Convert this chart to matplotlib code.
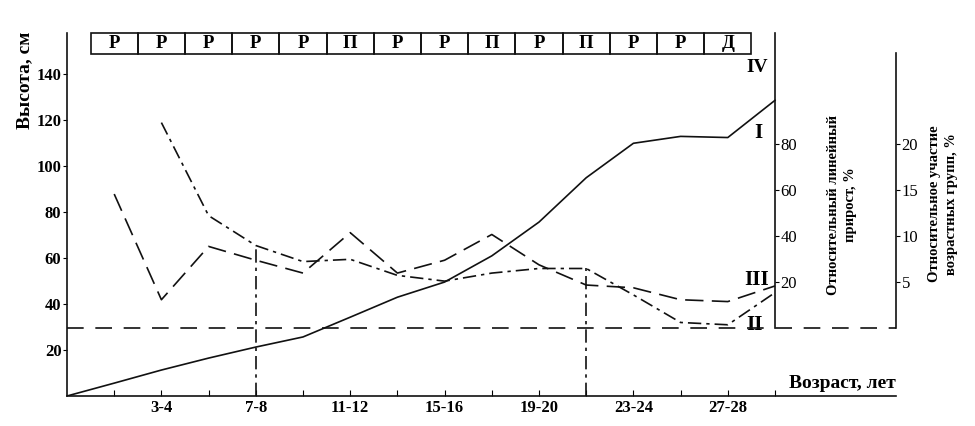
import matplotlib
matplotlib.use("Agg")
import matplotlib.pyplot as plt
from matplotlib.patches import Rectangle

plt.rcParams['font.family'] = ['Liberation Serif', 'DejaVu Serif']
plt.rcParams['font.weight'] = 'bold'

# данные
age_idx = list(range(16))                    # 0 .. 15 (пары лет)
age_ticks = [2, 4, 6, 8, 10, 12, 14]
age_labels = ["3-4", "7-8", "11-12", "15-16", "19-20", "23-24", "27-28"]

# I - высота, см (левая ось)
height = [0, 5.6, 11.3, 16.5, 21.3, 25.7, 34.3, 43, 49.6, 61, 75.7, 95, 110, 113, 112.5, 128.7]

# II - относительный линейный прирост, % (с 3-4 лет)
growth_idx = [2, 3, 4, 5, 6, 7, 8, 9, 10, 11, 12, 13, 14, 15]
growth = [89.5, 49, 36, 29, 30, 23, 20.5, 24, 26, 26, 14.5, 2.5, 1.5, 15.5]

# III - относительное участие возрастных групп, %
share_idx = [1, 2, 3, 4, 5, 6, 7, 8, 9, 10, 11, 12, 13, 14, 15]
share = [14.6, 3.1, 8.9, 7.4, 6.0, 10.4, 6.0, 7.4, 10.2, 6.9, 4.7, 4.4, 3.1, 2.9, 4.6]

# IV - характер развития по возрастным группам
stage_idx = list(range(1, 15))
stages = ["Р", "Р", "Р", "Р", "Р", "П", "Р", "Р", "П", "Р", "П", "Р", "Р", "Д"]

# границы периодов
bounds_idx = [4, 11]

INK = "#111111"

fig = plt.figure(figsize=(9.75, 4.26), dpi=100)
ax = fig.add_axes([67/975, 1 - 396/426, (896 - 67)/975, (396 - 33)/426])
ax.set_xlim(0, 829/47.2)
ax.set_ylim(0, 158)

ax2 = ax.twinx()
ax2.set_ylim(-29.5, 128.5)
ax3 = ax.twinx()
ax3.set_ylim(-29.5/4, 128.5/4)

for a in (ax, ax2, ax3):
    a.patch.set_visible(False)
    a.spines['top'].set_visible(False)
ax.spines['right'].set_visible(False)
for a in (ax2, ax3):
    a.spines['left'].set_visible(False)
    a.spines['bottom'].set_visible(False)

ax2.spines['right'].set_position(('axes', 15/(829/47.2)))
ax2.spines['right'].set_bounds(0, 128.5)
ax3.spines['right'].set_bounds(0, 30)

# оси
ax.set_yticks([20, 40, 60, 80, 100, 120, 140])
ax.set_xticks(age_idx[1:])
ax.set_xticklabels(["" if i not in age_ticks else age_labels[age_ticks.index(i)] for i in age_idx[1:]])
ax.tick_params(axis='x', direction='in', length=4, labelsize=12, pad=3)
ax.tick_params(axis='y', direction='out', length=3, labelsize=12, pad=1)
ax2.set_yticks([20, 40, 60, 80])
ax3.set_yticks([5, 10, 15, 20])
for a in (ax2, ax3):
    a.tick_params(axis='y', direction='out', length=3, labelsize=12, pad=1)
    for lab in a.get_yticklabels():
        lab.set_fontweight('normal')
for a in (ax, ax2, ax3):
    for s in a.spines.values():
        s.set_linewidth(1.2)
        s.set_color(INK)

# кривые
ax.plot(age_idx, height, color=INK, lw=1.2)
ax2.plot(growth_idx, growth, color=INK, lw=1.2, dashes=(8, 3, 2, 3))
ax3.plot(share_idx, share, color=INK, lw=1.2, dashes=(11, 5))
ax2.axhline(0, color=INK, lw=1.2, dashes=(10, 7))
ax2.vlines(bounds_idx, -29.5, [growth[growth_idx.index(b)] for b in bounds_idx],
           color=INK, lw=1.2, linestyles=(0, (8, 3, 2, 3)))

# строка IV
for i, s in zip(stage_idx, stages):
    ax.add_patch(Rectangle((i - 0.5, 149), 1, 9, fill=False, lw=1.2, ec=INK, clip_on=False))
    ax.text(i, 153.3, s, ha='center', va='center', fontsize=13.5, fontweight='bold')

# подписи кривых
ax.text(14.4, 143, "IV", fontsize=14, fontweight='bold', va='center')
ax.text(14.55, 114.5, "I", fontsize=15, fontweight='bold', va='center')
ax.text(14.34, 50.5, "III", fontsize=15, fontweight='bold', va='center')
ax.text(14.4, 31, "II", fontsize=15, fontweight='bold', va='center')

# подписи осей
ax.text(1.0, 0.012, "Возраст, лет", transform=ax.transAxes, ha='right', va='bottom',
        fontsize=14, fontweight='bold')
fig.text(25/975, 1 - 80/426, "Высота, см", rotation=90, ha='center', va='center',
         fontsize=14, fontweight='bold')
fig.text(842/975, 1 - 205/426, "Относительный линейный\nприрост, %", rotation=90,
         ha='center', va='center', fontsize=10.5, fontweight='bold', linespacing=1.35)
fig.text(943/975, 1 - 204/426, "Относительное участие\nвозрастных групп, %", rotation=90,
         ha='center', va='center', fontsize=10.5, fontweight='bold', linespacing=1.35)

fig.savefig("out.png", dpi=100)
